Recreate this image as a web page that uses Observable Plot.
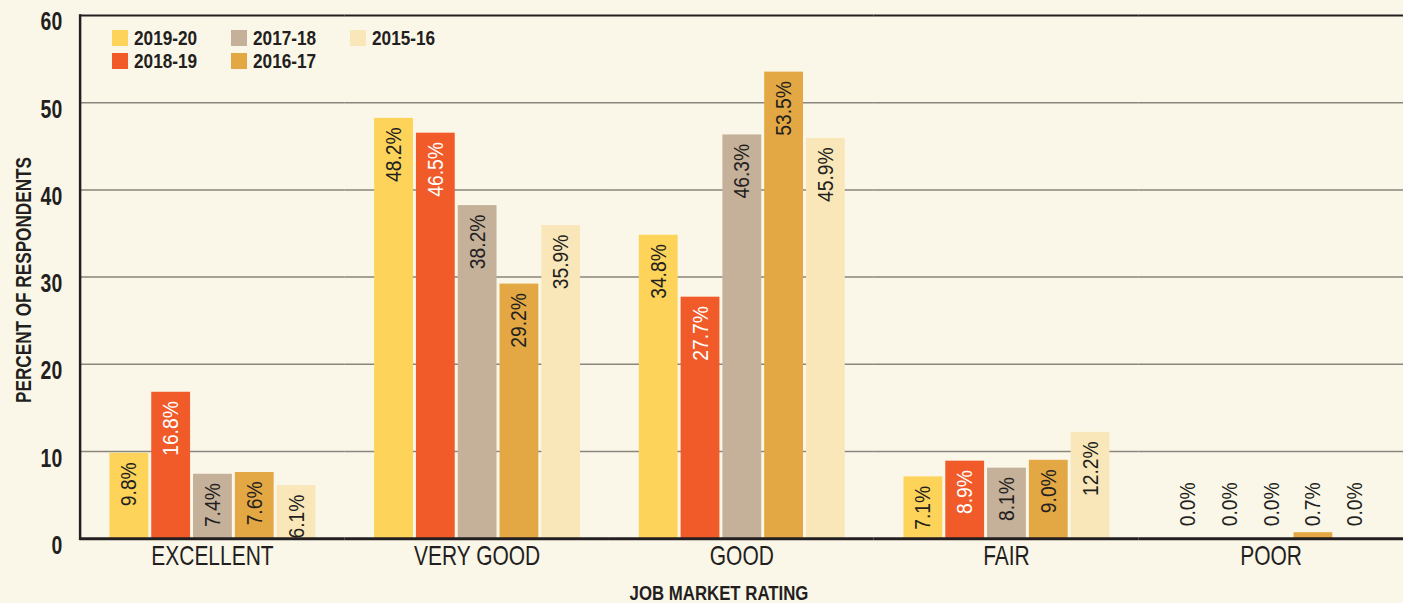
<!DOCTYPE html>
<html><head><meta charset="utf-8">
<script src="https://cdn.jsdelivr.net/npm/d3@7"></script>
<script src="https://cdn.jsdelivr.net/npm/@observablehq/plot@0.6"></script>
<style>
html,body{margin:0;padding:0;background:#fbf7e8;overflow:hidden}
#wrap{position:relative;width:1403px;height:603px;overflow:hidden;font-family:"Liberation Sans",Arial,sans-serif;color:#231f20}
#wrap svg{position:absolute;left:0;top:0;background:transparent}
#legend{position:absolute;left:112px;top:30px;display:grid;grid-template-rows:23px 23px;grid-auto-flow:column;grid-auto-columns:119px;font-weight:bold;font-size:21px}
#legend .item{display:flex;align-items:center;height:16px;line-height:16px}
#legend .sw{width:16px;height:16px;margin-right:6px;flex:none}
#legend .lt{display:inline-block;transform:scaleX(0.82);transform-origin:left center;white-space:nowrap}
#ytitle{position:absolute;left:24px;top:280px;transform:translate(-50%,-50%) rotate(-90deg) scaleX(0.78);white-space:nowrap;font-weight:bold;font-size:22px;line-height:22px}
#xtitle{position:absolute;left:719px;top:592px;transform:translate(-50%,-50%) scaleX(0.80);white-space:nowrap;font-weight:bold;font-size:21px;line-height:21px}
</style></head><body><div id="wrap"></div><script>
const categories = ["EXCELLENT", "VERY GOOD", "GOOD", "FAIR", "POOR"];
const years = ["2019-20", "2018-19", "2017-18", "2016-17", "2015-16"];
const v2019_20 = [9.8, 48.2, 34.8, 7.1, 0.0];
const v2018_19 = [16.8, 46.5, 27.7, 8.9, 0.0];
const v2017_18 = [7.4, 38.2, 46.3, 8.1, 0.0];
const v2016_17 = [7.6, 29.2, 53.5, 9.0, 0.7];
const v2015_16 = [6.1, 35.9, 45.9, 12.2, 0.0];
const yearColors = ["#fed359", "#f15a29", "#c5b09a", "#e3a843", "#f9e7b9"];
const labelColors = ["#231f20", "#ffffff", "#231f20", "#231f20", "#231f20"];
const yTicks = [0, 10, 20, 30, 40, 50, 60];
const yTitle = "PERCENT OF RESPONDENTS";
const xTitle = "JOB MARKET RATING";

const series = [v2019_20, v2018_19, v2017_18, v2016_17, v2015_16];
const data = [];
categories.forEach((c, i) => years.forEach((y, j) => data.push({cat: c, year: y, value: series[j][i]})));

const font = '"Liberation Sans",Arial,sans-serif';
const chart = Plot.plot({
  width: 1410, height: 603,
  marginLeft: 80, marginRight: 0, marginTop: 15, marginBottom: 62,
  style: {background: "transparent", fontFamily: font, color: "#231f20"},
  fx: {domain: categories, padding: 0, label: null, axis: null},
  x: {domain: years, paddingInner: 0.08, paddingOuter: 0.67, axis: null},
  y: {domain: [0, 60], ticks: yTicks, label: null, axis: null},
  color: {domain: years, range: yearColors},
  marks: [
    Plot.gridY(yTicks.filter(t => t > 0 && t < 60), {stroke: "#8a857d", strokeOpacity: 1, strokeWidth: 1.5}),
    Plot.ruleY([60], {stroke: "#231f20", strokeWidth: 2}),
    Plot.barY(data, {fx: "cat", x: "year", y: "value", fill: "year"}),
    Plot.ruleY([0], {stroke: "#231f20", strokeWidth: 3}),
    Plot.frame({anchor: "left", facetAnchor: "left", stroke: "#231f20", strokeWidth: 2.5}),
    Plot.text(data, {
      fx: "cat", x: "year", y: d => d.value < 3 ? 7.5 : d.value,
      text: d => d.value.toFixed(1) + "%",
      rotate: -90, textAnchor: "end", lineAnchor: "middle", dy: 9,
      fontSize: 22, fill: d => d.value < 3 ? "#231f20" : labelColors[years.indexOf(d.year)]
    }),
    Plot.axisY({ticks: yTicks, tickSize: 0, tickPadding: 18, fontSize: 25, fontWeight: "bold", dy: 7, label: null}),
    Plot.axisFx({anchor: "bottom", tickSize: 0, tickPadding: 7, fontSize: 27, label: null})
  ]
});
const wrap = document.getElementById("wrap");
wrap.appendChild(chart);

// narrow the glyphs to imitate the condensed typeface of the original
function narrow(selector, s) {
  chart.querySelectorAll(selector).forEach(t => {
    const tr = t.getAttribute("transform");
    if (tr) t.setAttribute("transform", tr + ` scale(${s},1)`);
    else {
      const x = +t.getAttribute("x") || 0, y = +t.getAttribute("y") || 0;
      t.removeAttribute("x"); t.removeAttribute("y");
      t.setAttribute("transform", `translate(${x},${y}) scale(${s},1)`);
    }
  });
}
narrow('g[aria-label="text"] text', 0.88);
narrow('g[aria-label="y-axis tick label"] text', 0.78);
narrow('g[aria-label="fx-axis tick label"] text', 0.78);

const legend = document.createElement("div");
legend.id = "legend";
years.forEach((y, j) => {
  const it = document.createElement("div");
  it.className = "item";
  it.innerHTML = `<span class="sw" style="background:${yearColors[j]}"></span><span class="lt">${y}</span>`;
  legend.appendChild(it);
});
wrap.appendChild(legend);
const yt = document.createElement("div"); yt.id = "ytitle"; yt.textContent = yTitle; wrap.appendChild(yt);
const xt = document.createElement("div"); xt.id = "xtitle"; xt.textContent = xTitle; wrap.appendChild(xt);
</script></body></html>
